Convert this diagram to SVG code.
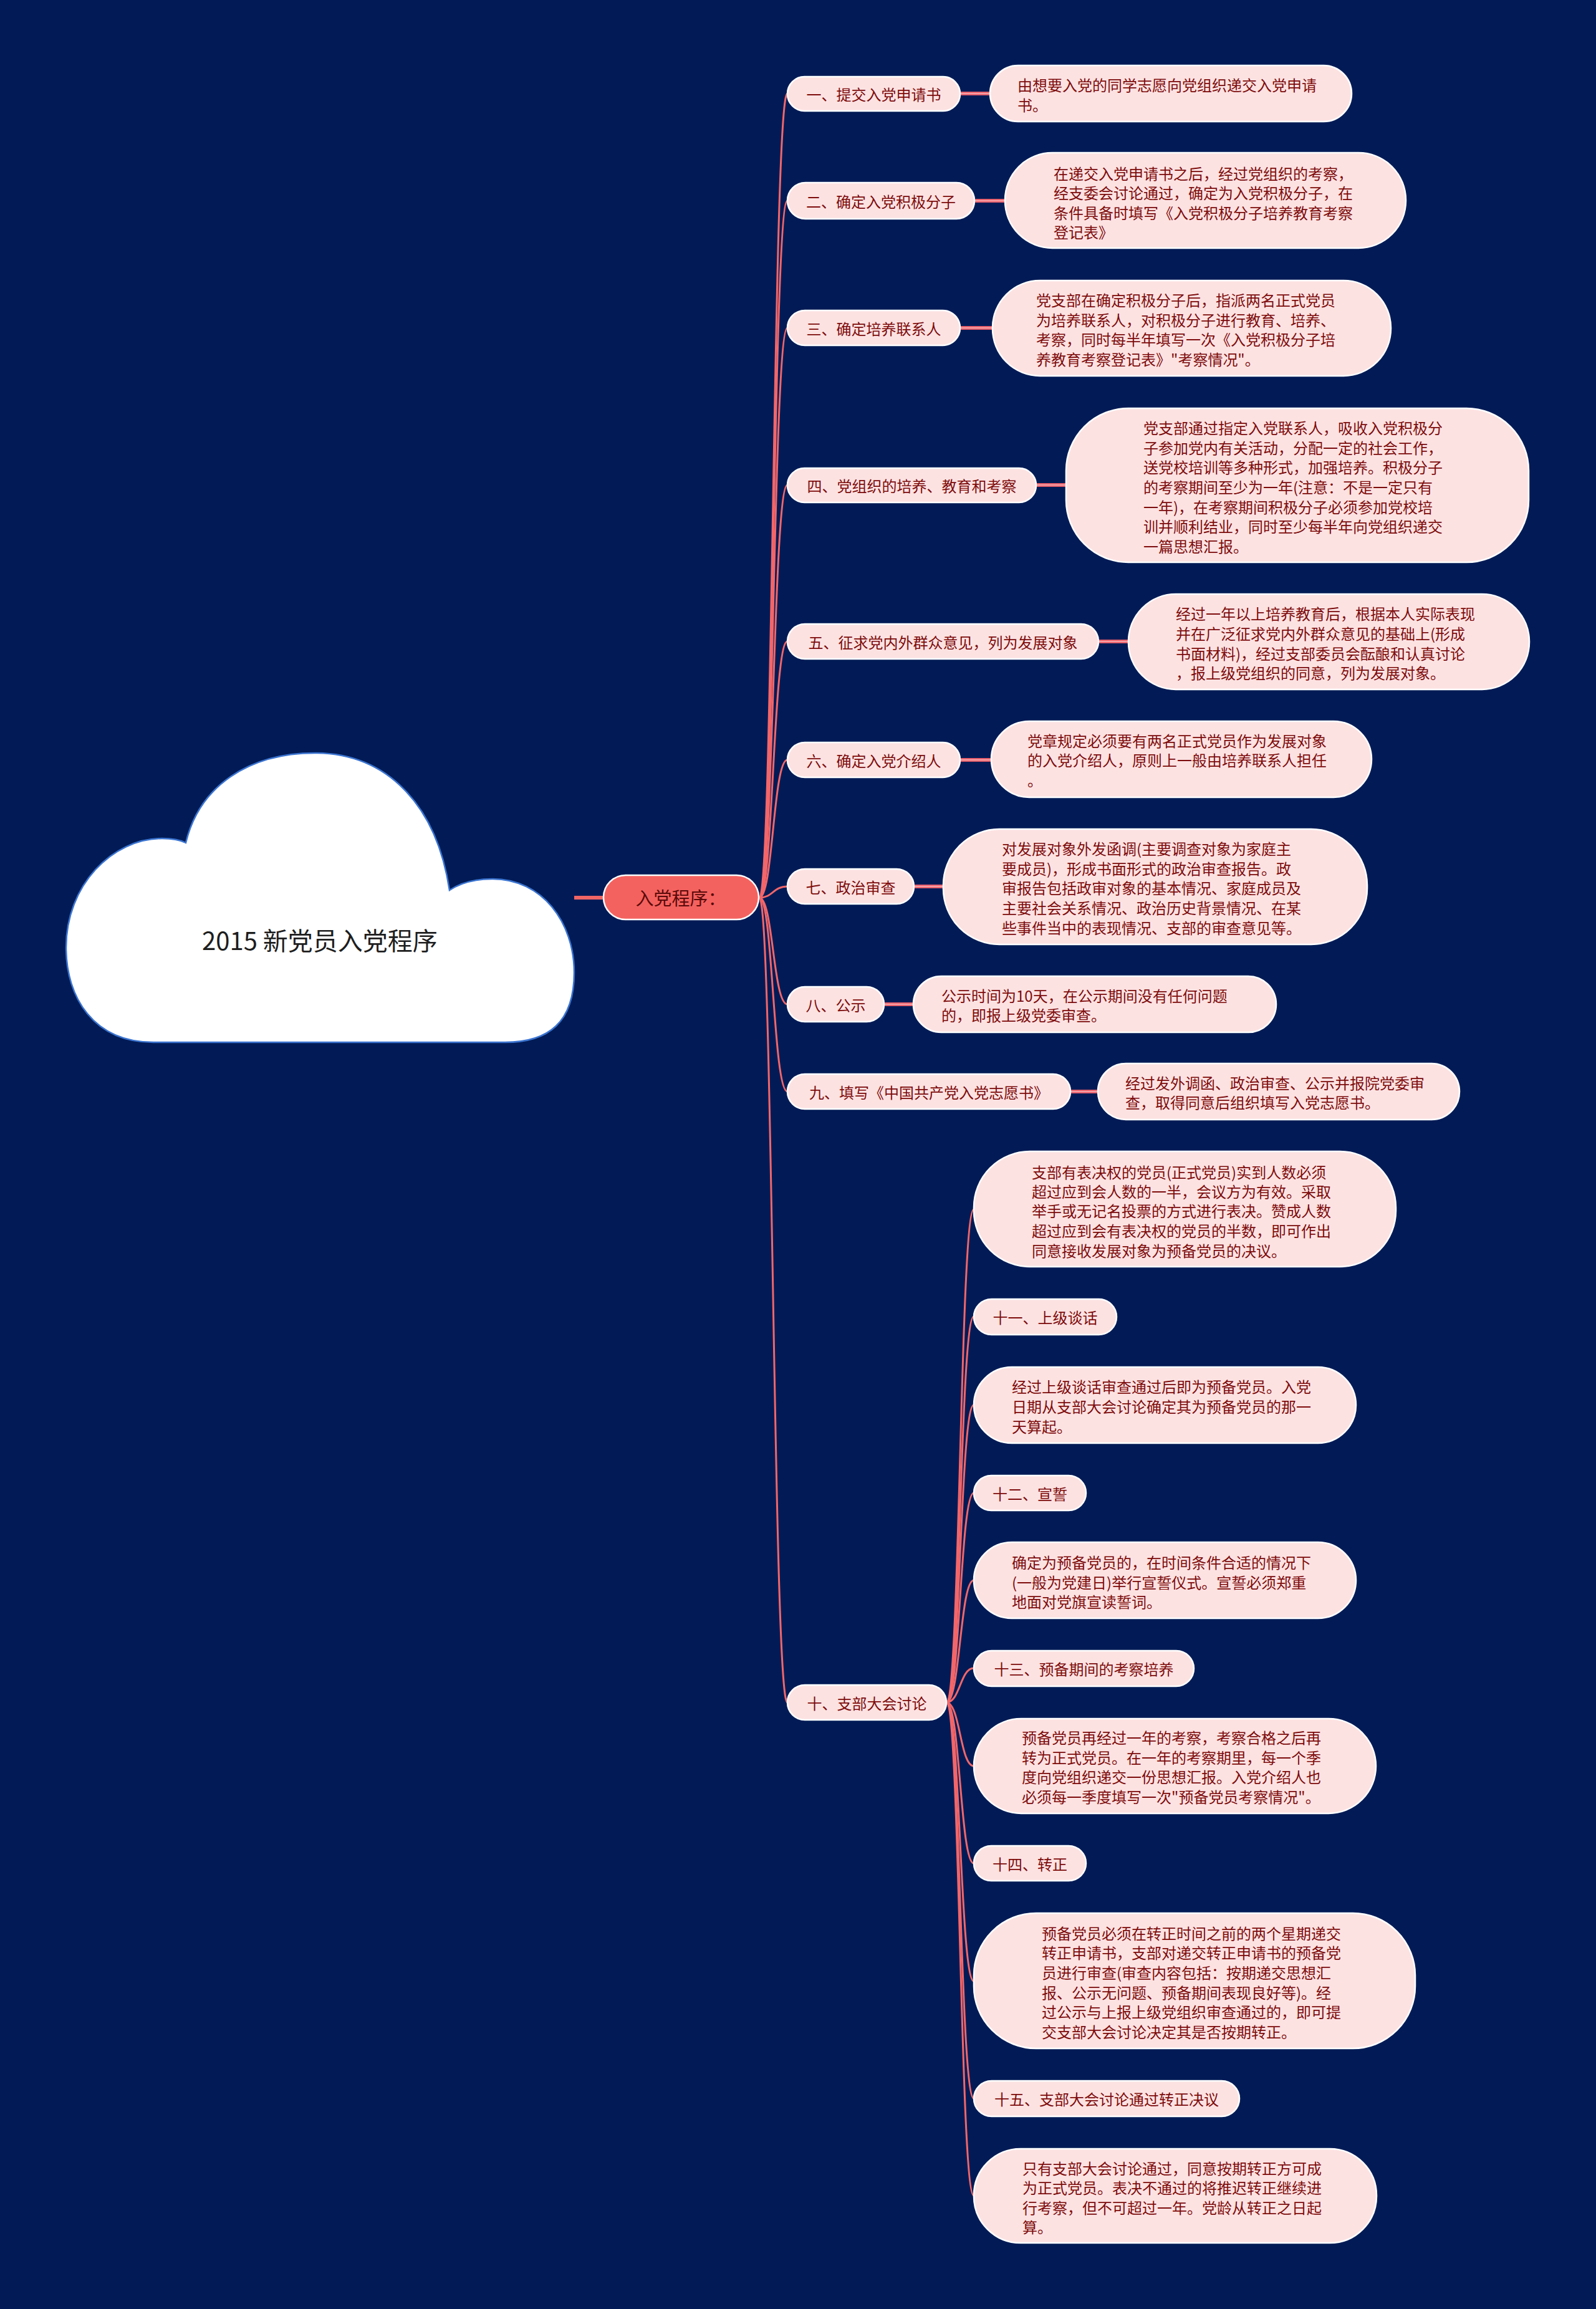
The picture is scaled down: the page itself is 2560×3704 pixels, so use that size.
<svg xmlns="http://www.w3.org/2000/svg" width="2560" height="3704" viewBox="0 0 2560 3704">
<style>
.bg{fill:#021b56}
.lbl{fill:#fde2e2;stroke:#ffffff;stroke-width:2.5}
.det{fill:#fde2e2;stroke:#ffffff;stroke-width:2.5}
.t{font-family:"Noto Sans CJK SC","Noto Sans",sans-serif;font-size:24px;fill:#7d0c0c;dominant-baseline:central}
.tc{text-anchor:middle}
.curve{fill:none;stroke:#f2666a;stroke-width:3}
.bar{fill:none;stroke:#e8606c;stroke-width:6}
.barin{fill:none;stroke:#f7a0a6;stroke-width:2}
</style>
<rect class="bg" x="0" y="0" width="2560" height="3704"/>

<g id="connectors">
  <line x1="921" y1="1440" x2="968" y2="1440" stroke="#ef6565" stroke-width="6"/>
  <path class="curve" d="M1218 1440 C1240 1440,1240 150,1263 150"/>
  <path class="curve" d="M1218 1440 C1240 1440,1240 322,1263 322"/>
  <path class="curve" d="M1218 1440 C1240 1440,1240 526,1263 526"/>
  <path class="curve" d="M1218 1440 C1240 1440,1240 778,1263 778"/>
  <path class="curve" d="M1218 1440 C1240 1440,1240 1029,1263 1029"/>
  <path class="curve" d="M1218 1440 C1240 1440,1240 1219,1263 1219"/>
  <path class="curve" d="M1218 1440 C1240 1440,1240 1422,1263 1422"/>
  <path class="curve" d="M1218 1440 C1240 1440,1240 1611,1263 1611"/>
  <path class="curve" d="M1218 1440 C1240 1440,1240 1751,1263 1751"/>
  <path class="curve" d="M1218 1440 C1240 1440,1240 2731,1263 2731"/>

  <path class="curve" d="M1518 2731 C1540 2731,1540 1940,1562 1940"/>
  <path class="curve" d="M1518 2731 C1540 2731,1540 2112,1562 2112"/>
  <path class="curve" d="M1518 2731 C1540 2731,1540 2254,1562 2254"/>
  <path class="curve" d="M1518 2731 C1540 2731,1540 2395,1562 2395"/>
  <path class="curve" d="M1518 2731 C1540 2731,1540 2535,1562 2535"/>
  <path class="curve" d="M1518 2731 C1540 2731,1540 2676,1562 2676"/>
  <path class="curve" d="M1518 2731 C1540 2731,1540 2833,1562 2833"/>
  <path class="curve" d="M1518 2731 C1540 2731,1540 2989,1562 2989"/>
  <path class="curve" d="M1518 2731 C1540 2731,1540 3178,1562 3178"/>
  <path class="curve" d="M1518 2731 C1540 2731,1540 3366,1562 3366"/>
  <path class="curve" d="M1518 2731 C1540 2731,1540 3522,1562 3522"/>

  <g>
    <line class="bar" x1="1540" y1="150" x2="1590" y2="150"/><line class="barin" x1="1540" y1="150" x2="1590" y2="150"/>
    <line class="bar" x1="1563" y1="322" x2="1614" y2="322"/><line class="barin" x1="1563" y1="322" x2="1614" y2="322"/>
    <line class="bar" x1="1540" y1="526" x2="1594" y2="526"/><line class="barin" x1="1540" y1="526" x2="1594" y2="526"/>
    <line class="bar" x1="1662" y1="778" x2="1712" y2="778"/><line class="barin" x1="1662" y1="778" x2="1712" y2="778"/>
    <line class="bar" x1="1762" y1="1029" x2="1812" y2="1029"/><line class="barin" x1="1762" y1="1029" x2="1812" y2="1029"/>
    <line class="bar" x1="1540" y1="1219" x2="1592" y2="1219"/><line class="barin" x1="1540" y1="1219" x2="1592" y2="1219"/>
    <line class="bar" x1="1466" y1="1422" x2="1515" y2="1422"/><line class="barin" x1="1466" y1="1422" x2="1515" y2="1422"/>
    <line class="bar" x1="1418" y1="1611" x2="1467" y2="1611"/><line class="barin" x1="1418" y1="1611" x2="1467" y2="1611"/>
    <line class="bar" x1="1717" y1="1751" x2="1763" y2="1751"/><line class="barin" x1="1717" y1="1751" x2="1763" y2="1751"/>
  </g>
</g>

<g id="root">
  <path d="M246 1672 C150 1672,106 1600,106 1520 C106 1420,180 1345,260 1345 C275 1345,290 1348,298 1352 C320 1260,400 1208,505 1208 C620 1208,700 1290,721 1428 C740 1415,765 1410,790 1410 C870 1410,921 1480,921 1560 C921 1640,880 1672,810 1672 Z" fill="#ffffff" stroke="#3b74d0" stroke-width="2.5"/>
  <text x="513" y="1507" font-family="'Noto Sans CJK SC','Noto Sans',sans-serif" font-size="40" fill="#1e1e1e" text-anchor="middle" dominant-baseline="central">2015 新党员入党程序</text>
</g>

<g id="main">
  <rect x="968" y="1404" width="249" height="71" rx="35.5" fill="#f4625f" stroke="#ffffff" stroke-width="2.5"/>
  <text class="t tc" x="1092" y="1439" style="font-size:29px;fill:#5a0a0a">入党程序：</text>
</g>

<g id="n1">
  <rect class="lbl" x="1263" y="123" width="277" height="55" rx="27.5"/>
  <text class="t tc" x="1401.5" y="150.5">一、提交入党申请书</text>
</g>
<g id="d1">
  <rect class="det" x="1588" y="105" width="580" height="90" rx="45"/>
  <text class="t" x="1632" y="135">由想要入党的同学志愿向党组织递交入党申请</text>
  <text class="t" x="1632" y="167">书。</text>
</g>

<g id="n2">
  <rect class="lbl" x="1263" y="293" width="300" height="58" rx="29"/>
  <text class="t tc" x="1413" y="322">二、确定入党积极分子</text>
</g>
<g id="d2">
  <rect class="det" x="1612" y="245" width="643" height="153" rx="76"/>
  <text class="t" x="1690" y="277">在递交入党申请书之后，经过党组织的考察，</text>
  <text class="t" x="1690" y="308">经支委会讨论通过，确定为入党积极分子，在</text>
  <text class="t" x="1690" y="340">条件具备时填写《入党积极分子培养教育考察</text>
  <text class="t" x="1690" y="371">登记表》</text>
</g>

<g id="n3">
  <rect class="lbl" x="1263" y="498" width="277" height="56" rx="28"/>
  <text class="t tc" x="1401.5" y="526">三、确定培养联系人</text>
</g>
<g id="d3">
  <rect class="det" x="1592" y="450" width="639" height="153" rx="76"/>
  <text class="t" x="1662" y="480">党支部在确定积极分子后，指派两名正式党员</text>
  <text class="t" x="1662" y="512">为培养联系人，对积极分子进行教育、培养、</text>
  <text class="t" x="1662" y="543">考察，同时每半年填写一次《入党积极分子培</text>
  <text class="t" x="1662" y="575">养教育考察登记表》"考察情况"。</text>
</g>

<g id="n4">
  <rect class="lbl" x="1263" y="751" width="399" height="55" rx="27.5"/>
  <text class="t tc" x="1462.5" y="778.5">四、党组织的培养、教育和考察</text>
</g>
<g id="d4">
  <rect class="det" x="1710" y="655" width="742" height="247" rx="100"/>
  <text class="t" x="1834" y="685">党支部通过指定入党联系人，吸收入党积极分</text>
  <text class="t" x="1834" y="717">子参加党内有关活动，分配一定的社会工作，</text>
  <text class="t" x="1834" y="748">送党校培训等多种形式，加强培养。积极分子</text>
  <text class="t" x="1834" y="780">的考察期间至少为一年(注意：不是一定只有</text>
  <text class="t" x="1834" y="812">一年)，在考察期间积极分子必须参加党校培</text>
  <text class="t" x="1834" y="843">训并顺利结业，同时至少每半年向党组织递交</text>
  <text class="t" x="1834" y="875">一篇思想汇报。</text>
</g>

<g id="n5">
  <rect class="lbl" x="1263" y="1001" width="499" height="56" rx="28"/>
  <text class="t tc" x="1512.5" y="1029">五、征求党内外群众意见，列为发展对象</text>
</g>
<g id="d5">
  <rect class="det" x="1810" y="953" width="643" height="153" rx="76"/>
  <text class="t" x="1886" y="983">经过一年以上培养教育后，根据本人实际表现</text>
  <text class="t" x="1886" y="1015">并在广泛征求党内外群众意见的基础上(形成</text>
  <text class="t" x="1886" y="1047">书面材料)，经过支部委员会酝酿和认真讨论</text>
  <text class="t" x="1886" y="1078">，报上级党组织的同意，列为发展对象。</text>
</g>

<g id="n6">
  <rect class="lbl" x="1263" y="1191" width="277" height="56" rx="28"/>
  <text class="t tc" x="1401.5" y="1219">六、确定入党介绍人</text>
</g>
<g id="d6">
  <rect class="det" x="1590" y="1157" width="610" height="122" rx="61"/>
  <text class="t" x="1648" y="1187">党章规定必须要有两名正式党员作为发展对象</text>
  <text class="t" x="1648" y="1218">的入党介绍人，原则上一般由培养联系人担任</text>
  <text class="t" x="1648" y="1250">。</text>
</g>

<g id="n7">
  <rect class="lbl" x="1263" y="1394" width="203" height="56" rx="28"/>
  <text class="t tc" x="1364.5" y="1422">七、政治审查</text>
</g>
<g id="d7">
  <rect class="det" x="1513" y="1330" width="680" height="185" rx="90"/>
  <text class="t" x="1607" y="1360">对发展对象外发函调(主要调查对象为家庭主</text>
  <text class="t" x="1607" y="1392">要成员)，形成书面形式的政治审查报告。政</text>
  <text class="t" x="1607" y="1423">审报告包括政审对象的基本情况、家庭成员及</text>
  <text class="t" x="1607" y="1455">主要社会关系情况、政治历史背景情况、在某</text>
  <text class="t" x="1607" y="1487">些事件当中的表现情况、支部的审查意见等。</text>
</g>

<g id="n8">
  <rect class="lbl" x="1263" y="1583" width="155" height="56" rx="28"/>
  <text class="t tc" x="1340.5" y="1611">八、公示</text>
</g>
<g id="d8">
  <rect class="det" x="1465" y="1566" width="582" height="90" rx="45"/>
  <text class="t" x="1510" y="1596">公示时间为10天，在公示期间没有任何问题</text>
  <text class="t" x="1510" y="1627">的，即报上级党委审查。</text>
</g>

<g id="n9">
  <rect class="lbl" x="1263" y="1723" width="454" height="56" rx="28"/>
  <text class="t tc" x="1490" y="1751">九、填写《中国共产党入党志愿书》</text>
</g>
<g id="d9">
  <rect class="det" x="1761" y="1706" width="580" height="90" rx="45"/>
  <text class="t" x="1805" y="1736">经过发外调函、政治审查、公示并报院党委审</text>
  <text class="t" x="1805" y="1767">查，取得同意后组织填写入党志愿书。</text>
</g>

<g id="n10">
  <rect class="lbl" x="1263" y="2703" width="255" height="56" rx="28"/>
  <text class="t tc" x="1390.5" y="2731">十、支部大会讨论</text>
</g>
<g id="d10a">
  <rect class="det" x="1562" y="1847" width="677" height="185" rx="90"/>
  <text class="t" x="1655" y="1879">支部有表决权的党员(正式党员)实到人数必须</text>
  <text class="t" x="1655" y="1910">超过应到会人数的一半，会议方为有效。采取</text>
  <text class="t" x="1655" y="1941">举手或无记名投票的方式进行表决。赞成人数</text>
  <text class="t" x="1655" y="1973">超过应到会有表决权的党员的半数，即可作出</text>
  <text class="t" x="1655" y="2005">同意接收发展对象为预备党员的决议。</text>
</g>
<g id="n11">
  <rect class="lbl" x="1562" y="2084" width="229" height="57" rx="28.5"/>
  <text class="t tc" x="1676.5" y="2112">十一、上级谈话</text>
</g>
<g id="d11">
  <rect class="det" x="1562" y="2193" width="613" height="122" rx="61"/>
  <text class="t" x="1623" y="2223">经过上级谈话审查通过后即为预备党员。入党</text>
  <text class="t" x="1623" y="2255">日期从支部大会讨论确定其为预备党员的那一</text>
  <text class="t" x="1623" y="2287">天算起。</text>
</g>
<g id="n12">
  <rect class="lbl" x="1562" y="2367" width="180" height="56" rx="28"/>
  <text class="t tc" x="1652" y="2395">十二、宣誓</text>
</g>
<g id="d12">
  <rect class="det" x="1562" y="2474" width="613" height="122" rx="61"/>
  <text class="t" x="1623" y="2505">确定为预备党员的，在时间条件合适的情况下</text>
  <text class="t" x="1623" y="2537">(一般为党建日)举行宣誓仪式。宣誓必须郑重</text>
  <text class="t" x="1623" y="2568">地面对党旗宣读誓词。</text>
</g>
<g id="n13">
  <rect class="lbl" x="1562" y="2648" width="353" height="57" rx="28.5"/>
  <text class="t tc" x="1738.5" y="2676">十三、预备期间的考察培养</text>
</g>
<g id="d13">
  <rect class="det" x="1562" y="2757" width="645" height="152" rx="76"/>
  <text class="t" x="1639" y="2786">预备党员再经过一年的考察，考察合格之后再</text>
  <text class="t" x="1639" y="2818">转为正式党员。在一年的考察期里，每一个季</text>
  <text class="t" x="1639" y="2849">度向党组织递交一份思想汇报。入党介绍人也</text>
  <text class="t" x="1639" y="2881">必须每一季度填写一次"预备党员考察情况"。</text>
</g>
<g id="n14">
  <rect class="lbl" x="1562" y="2961" width="180" height="56" rx="28"/>
  <text class="t tc" x="1652" y="2989">十四、转正</text>
</g>
<g id="d14">
  <rect class="det" x="1562" y="3069" width="708" height="217" rx="100"/>
  <text class="t" x="1671" y="3100">预备党员必须在转正时间之前的两个星期递交</text>
  <text class="t" x="1671" y="3131">转正申请书，支部对递交转正申请书的预备党</text>
  <text class="t" x="1671" y="3163">员进行审查(审查内容包括：按期递交思想汇</text>
  <text class="t" x="1671" y="3195">报、公示无问题、预备期间表现良好等)。经</text>
  <text class="t" x="1671" y="3226">过公示与上报上级党组织审查通过的，即可提</text>
  <text class="t" x="1671" y="3258">交支部大会讨论决定其是否按期转正。</text>
</g>
<g id="n15">
  <rect class="lbl" x="1562" y="3338" width="426" height="57" rx="28.5"/>
  <text class="t tc" x="1775" y="3366">十五、支部大会讨论通过转正决议</text>
</g>
<g id="d15">
  <rect class="det" x="1562" y="3447" width="646" height="151" rx="75"/>
  <text class="t" x="1640" y="3477">只有支部大会讨论通过，同意按期转正方可成</text>
  <text class="t" x="1640" y="3508">为正式党员。表决不通过的将推迟转正继续进</text>
  <text class="t" x="1640" y="3540">行考察，但不可超过一年。党龄从转正之日起</text>
  <text class="t" x="1640" y="3571">算。</text>
</g>
</svg>
